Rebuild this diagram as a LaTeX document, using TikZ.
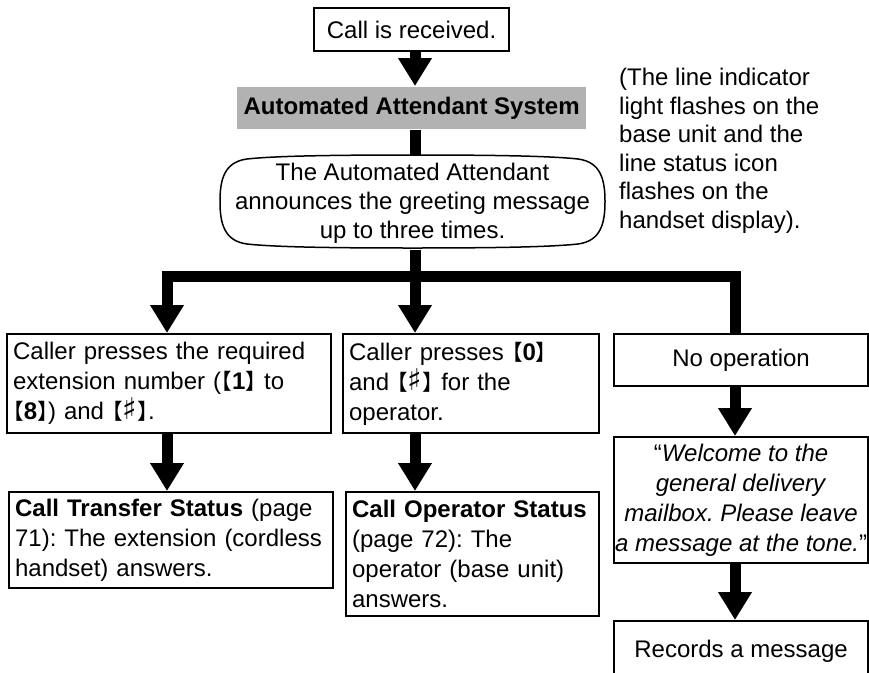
\documentclass[tikz,border=0pt]{standalone}
\usepackage{fontspec}
\setmainfont{Liberation Sans}
\newfontfamily\cjkfont[RawFeature=+halt,Scale=0.9]{Noto Sans CJK JP}
\newfontfamily\symfont[Scale=1.25]{DejaVu Sans}
\usetikzlibrary{arrows.meta}
\frenchspacing
\newcommand{\keyb}[1]{{\cjkfont 【}\textbf{#1}{\cjkfont 】}}
\newcommand{\hashkey}{{\cjkfont 【}{\symfont ♯}{\cjkfont 】}}
\begin{document}
\begin{tikzpicture}[x=1pt,y=-1pt,
  box/.style={draw, line width=2.2pt, inner sep=0pt, anchor=north west,
    font=\fontsize{24}{30}\selectfont},
  lbox/.style={box, align=left},
  cbox/.style={box, align=center},
  bigarrow/.style={line width=11pt, line cap=butt, -{Triangle[width=32pt,length=28pt]}},
  stem/.style={line width=11pt, line cap=butt},
  outline/.style={line width=1.5pt},
]
\useasboundingbox (0,0) rectangle (869,672);
\clip (0,0) rectangle (869,672);

\coordinate (axis) at (415,0);
\coordinate (L) at (167,0);
\coordinate (R) at (735,0);
\coordinate (bar) at (415,276.5);

\node[cbox, minimum width=195pt, minimum height=43pt] (call) at (313,7) {Call is received.};
\node[box, draw=none, fill=black!30, minimum width=349pt, minimum height=42pt] (grey) at (236,86)
  {\textbf{Automated Attendant System}};
\node[align=center, inner sep=0pt, minimum width=385pt, minimum height=93pt,
  font=\fontsize{24}{29}\selectfont] (att) at (412.5,203)
  {The Automated Attendant\\announces the greeting message\\up to three times.};
\draw[outline] (412.5,155) .. controls (330,155) and (275,156) .. (247,159)
  .. controls (224,162) and (220,180) .. (220,201.5)
  .. controls (220,223) and (224,241) .. (247,244)
  .. controls (275,247) and (330,248) .. (412.5,248)
  .. controls (495,248) and (550,247) .. (578,244)
  .. controls (601,241) and (605,223) .. (605,201.5)
  .. controls (605,180) and (601,162) .. (578,159)
  .. controls (550,156) and (495,155) .. (412.5,155) -- cycle;

\node[align=left, inner sep=0pt, anchor=north west, font=\fontsize{24}{28.5}\selectfont] (note) at (619,68)
  {(The line indicator\\light flashes on the\\base unit and the\\line status icon\\flashes on the\\handset display).};

\node[lbox, minimum width=324pt, minimum height=99pt, text width=312pt] (b1) at (6,333)
  {Caller presses the required\\extension number (\keyb{1} to\\\keyb{8}) and \hashkey.};
\node[lbox, minimum width=256pt, minimum height=99pt, text width=244pt] (b2) at (342,333)
  {Caller presses \keyb{0}\\and \hashkey{} for the\\operator.};
\node[cbox, minimum width=254pt, minimum height=52pt] (b3) at (613,333) {No operation};
\node[cbox, minimum width=254pt, minimum height=126pt] (b4) at (613,436)
  {“\textit{Welcome to the}\\\textit{general delivery}\\\textit{mailbox. Please leave}\\\textit{a message at the tone.}”};
\node[cbox, minimum width=254pt, minimum height=60pt] (b5) at (613,620) {Records a message};
\node[lbox, minimum width=324pt, minimum height=96pt, text width=312pt] (ct) at (8,491)
  {\textbf{Call Transfer Status} (page\\71): The extension (cordless\\handset) answers.};
\node[lbox, minimum width=253pt, minimum height=124pt, text width=241pt] (co) at (345,491)
  {\textbf{Call Operator Status}\\(page 72): The\\operator (base unit)\\answers.};

\draw[bigarrow] (call.south -| axis) -- (grey.north -| axis);
\draw[stem] (grey.south -| axis) -- (att.north -| axis);
\draw[stem] (att.south -| axis) -- (bar);
\draw[stem, line cap=rect] (bar -| L) -- (bar -| R);
\draw[bigarrow] (bar -| L) -- (b1.north -| L);
\draw[bigarrow] (bar) -- (b2.north -| axis);
\draw[stem] (bar -| R) -- (b3.north -| R);
\draw[bigarrow] (b1.south -| L) -- (ct.north -| L);
\draw[bigarrow] (b2.south -| axis) -- (co.north -| axis);
\draw[bigarrow] (b3.south -| R) -- (b4.north -| R);
\draw[bigarrow] (b4.south -| R) -- (b5.north -| R);
\end{tikzpicture}
\end{document}
